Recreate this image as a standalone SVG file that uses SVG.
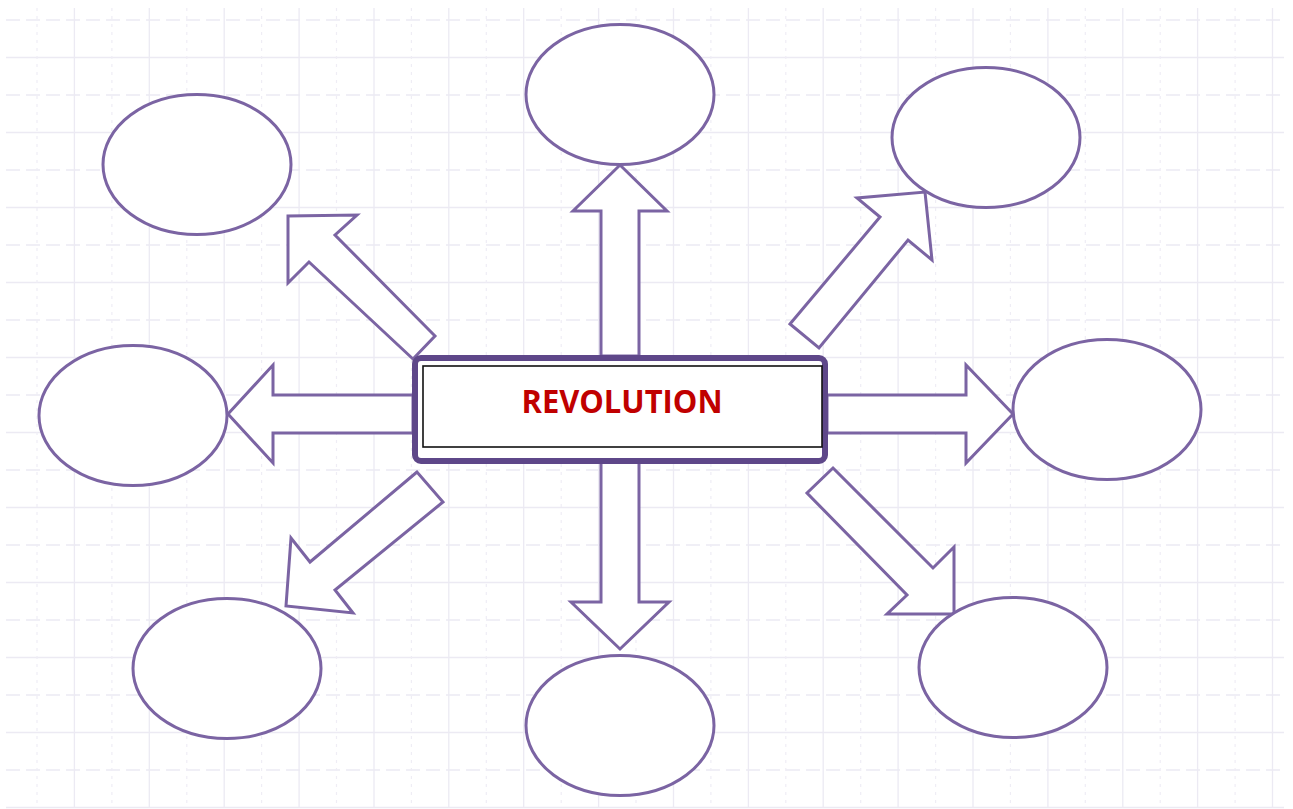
<svg xmlns="http://www.w3.org/2000/svg" width="1293" height="809" viewBox="0 0 1293 809">
  <style>
    .grid-solid { stroke: #eceaf3; stroke-width: 1.3; fill: none; }
    .grid-dash-h { stroke: #eceaf3; stroke-width: 1.3; fill: none; stroke-dasharray: 14 6; }
    .grid-dash-v { stroke: #efedf5; stroke-width: 1.2; fill: none; stroke-dasharray: 3 5; }
    .bubble { fill: #ffffff; stroke: #7b64a3; stroke-width: 3; }
    .arrow { fill: #ffffff; stroke: #7b64a3; stroke-width: 3; stroke-linejoin: miter; }
    .hub-outer { fill: #ffffff; stroke: #5e4789; stroke-width: 6; }
    .hub-inner { fill: #ffffff; stroke: #111111; stroke-width: 1.6; }
    .hub-label { font-family: "Open Sans", "Liberation Sans", sans-serif; font-weight: bold; font-size: 32px; fill: #c00000; }
  </style>

  <rect width="1293" height="809" fill="#ffffff"/>

  <!-- background grid -->
  <g id="grid">
    <path class="grid-solid" d="M6 57.5H1284M6 132.5H1284M6 207.5H1284M6 282.5H1284M6 357.5H1284M6 432.5H1284M6 507.5H1284M6 582.5H1284M6 657.5H1284M6 732.5H1284M6 807.5H1284"/>
    <path class="grid-dash-h" d="M6 20H1284M6 95H1284M6 170H1284M6 245H1284M6 320H1284M6 395H1284M6 470H1284M6 545H1284M6 620H1284M6 695H1284M6 770H1284"/>
    <path class="grid-solid" d="M74.4 8V807M149.3 8V807M224.2 8V807M299.1 8V807M374 8V807M448.8 8V807M523.7 8V807M598.6 8V807M673.5 8V807M748.4 8V807M823.2 8V807M898.1 8V807M973 8V807M1047.9 8V807M1122.8 8V807M1197.6 8V807M1272.5 8V807"/>
    <path class="grid-dash-v" d="M37 8V807M111.9 8V807M186.8 8V807M261.6 8V807M336.5 8V807M411.4 8V807M486.3 8V807M561.2 8V807M636 8V807M710.9 8V807M785.8 8V807M860.7 8V807M935.6 8V807M1010.4 8V807M1085.3 8V807M1160.2 8V807M1235.1 8V807"/>
  </g>

  <!-- block arrows radiating from the hub -->
  <g id="connectors">
    <polygon class="arrow" points="601,356 601,211 573,211 620,165 667,211 639,211 639,356"/>
    <polygon class="arrow" points="601,461 601,602 571,602 620,649 669,602 639,602 639,461"/>
    <polygon class="arrow" points="413,395 273,395 273,365 228,414 273,463 273,433 413,433"/>
    <polygon class="arrow" points="827,395 966,395 966,365 1013,414 966,463 966,433 827,433"/>
    <polygon class="arrow" points="790,324 880,217 857,198 925,192 932,260 908,240 819,348"/>
    <polygon class="arrow" points="413,359 309,262 288,283 288,216 357,215 335,235 435,336"/>
    <polygon class="arrow" points="417,472 310,562 291,538 286,606 353,613 335,590 443,502"/>
    <polygon class="arrow" points="833,468 933,568 954,547 954,614 887,614 907,595 807,493"/>
  </g>

  <!-- central hub -->
  <g id="hub">
    <rect class="hub-outer" x="415" y="358" width="410" height="103" rx="6"/>
    <rect class="hub-inner" x="423" y="366" width="399" height="81"/>
    <text class="hub-label" x="622" y="413" text-anchor="middle" textLength="201" lengthAdjust="spacingAndGlyphs">REVOLUTION</text>
  </g>

  <!-- empty idea bubbles -->
  <g id="bubble-nw"><ellipse class="bubble" cx="197" cy="164.5" rx="94" ry="70"/></g>
  <g id="bubble-n"><ellipse class="bubble" cx="620" cy="94.5" rx="94" ry="70"/></g>
  <g id="bubble-ne"><ellipse class="bubble" cx="986" cy="137.5" rx="94" ry="70"/></g>
  <g id="bubble-w"><ellipse class="bubble" cx="133" cy="415.5" rx="94" ry="70"/></g>
  <g id="bubble-e"><ellipse class="bubble" cx="1107" cy="409.5" rx="94" ry="70"/></g>
  <g id="bubble-sw"><ellipse class="bubble" cx="227" cy="668.5" rx="94" ry="70"/></g>
  <g id="bubble-s"><ellipse class="bubble" cx="620" cy="725.5" rx="94" ry="70"/></g>
  <g id="bubble-se"><ellipse class="bubble" cx="1013" cy="667.5" rx="94" ry="70"/></g>
</svg>
